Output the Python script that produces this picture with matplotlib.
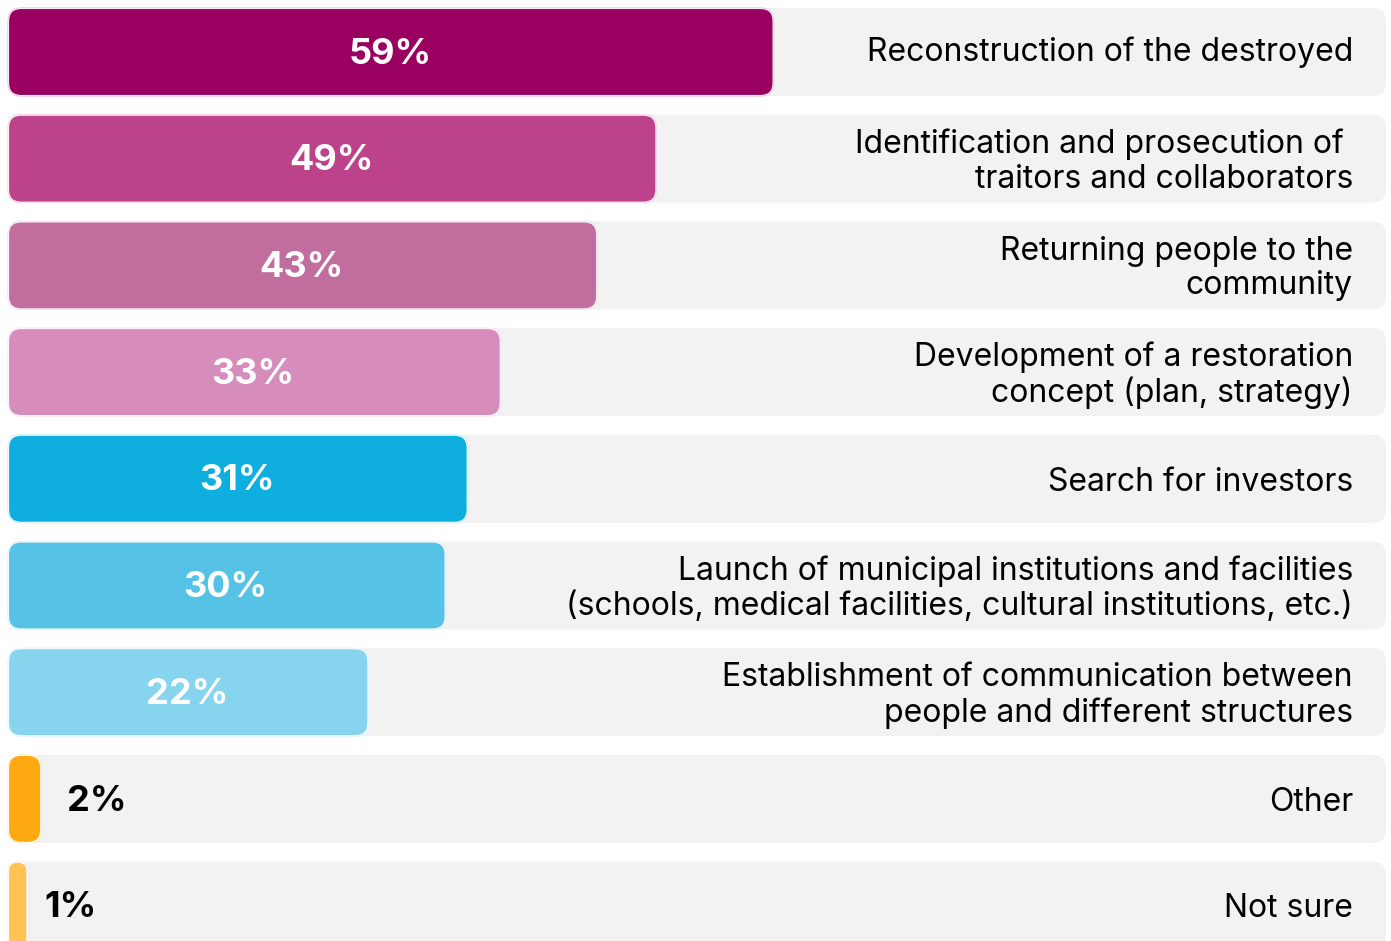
import matplotlib
matplotlib.use('Agg')
import matplotlib.pyplot as plt
from matplotlib.patches import FancyBboxPatch
import matplotlib.patheffects as pe
import matplotlib.colors as mcolors

# survey answers, top to bottom
categories = [
    'Reconstruction of the destroyed',
    'Identification and prosecution of \ntraitors and collaborators',
    'Returning people to the\ncommunity',
    'Development of a restoration\nconcept (plan, strategy)',
    'Search for investors',
    'Launch of municipal institutions and facilities\n(schools, medical facilities, cultural institutions, etc.)',
    'Establishment of communication between\npeople and different structures',
    'Other',
    'Not sure',
]
pct_labels = [59, 49, 43, 33, 31, 30, 22, 2, 1]
# bar extent as share of the grey track
bar_len = [55.4, 46.9, 42.6, 35.6, 33.2, 31.6, 26.0, 2.25, 1.25]
colors = ['#9A0060', '#BC428C', '#C16E9F', '#D78DBB', '#0EAFDF',
          '#55C2E6', '#86D4EE', '#FFA912', '#FFC354']

plt.rcParams['font.family'] = ['Inter', 'DejaVu Sans']

W, H = 1391, 941
fig = plt.figure(figsize=(W / 100, H / 100), dpi=100)
ax = fig.add_axes([0, 0, 1, 1])

# pixel geometry of the layout
px_x = 13.78      # px per x unit (track 0..100)
px_y = 106.7      # px per row
x_left = 8
row0 = 52
ax.set_xlim(-x_left / px_x, (W - x_left) / px_x)
ax.set_ylim((H - row0) / px_y, -row0 / px_y)
ax.axis('off')

row_h = 88 / px_y
aspect = px_x / px_y


def rounded(x, y, w, h, radius_px, **kw):
    r = min(radius_px, w * px_x / 2, h * px_y / 2) / px_x
    return FancyBboxPatch((x, y), w, h,
                          boxstyle='round,pad=0,rounding_size=%f' % r,
                          mutation_aspect=aspect, **kw)


for i, (cat, val, blen, col) in enumerate(zip(categories, pct_labels, bar_len, colors)):
    y0 = i - row_h / 2
    track = rounded(0, y0, 100, row_h, 14, facecolor='#F2F2F2',
                    edgecolor='none', zorder=1)
    ax.add_patch(track)

    tint = mcolors.to_rgb(col)
    tint = tuple(c + (1 - c) * 0.75 for c in tint)
    bar = rounded(0.08, y0 + 0.01, blen, row_h - 0.02, 12, facecolor=col,
                  edgecolor='none', zorder=2)
    bar.set_path_effects([pe.Stroke(linewidth=2.4, foreground=tint),
                          pe.Stroke(linewidth=1.2, foreground='white'),
                          pe.Normal()])
    ax.add_patch(bar)

    if blen > 10:
        ax.text(blen / 2, i + 0.02, '%d%%' % val, ha='center', va='center',
                color='white', fontsize=26, fontweight='bold', zorder=3)
    else:
        ax.text(blen * 1.67 + 0.52, i + 0.02, '%d%%' % val, ha='left',
                va='center', color='black', fontsize=26, fontweight='bold',
                zorder=3)

    dy = 0.0 if i == 0 else 0.03
    ax.text(97.6, i + dy, cat, ha='right', va='center', color='black',
            fontsize=23, linespacing=1.15, zorder=3)

fig.savefig('out.png', dpi=100)
